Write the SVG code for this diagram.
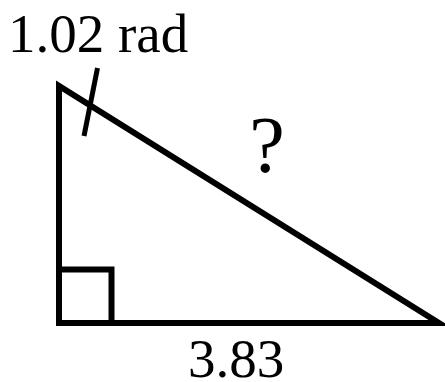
<svg xmlns="http://www.w3.org/2000/svg" width="445" height="382" viewBox="0 0 445 382">
<style>
.ln{stroke:#000;stroke-width:6;fill:none;stroke-linecap:square;stroke-linejoin:miter}
.t{font-family:"Liberation Serif","Times New Roman",serif;font-size:55px;fill:#000}
</style>
<rect width="445" height="382" fill="#fff"/>
<g id="triangle">
<path class="ln" d="M59,86 L59,323 L439,323 Z"/>
</g>
<g id="right-angle">
<path class="ln" d="M59,269.5 L111.5,269.5 L111.5,323"/>
</g>
<g id="connectors">
<line x1="97.5" y1="68" x2="84" y2="136" stroke="#000" stroke-width="5"/>
</g>
<g id="labels">
<text class="t" x="8" y="52">1.02 rad</text>
<text class="t" x="267" y="172" text-anchor="middle" style="font-size:80px">?</text>
<text class="t" x="236" y="377" text-anchor="middle">3.83</text>
</g>
</svg>
